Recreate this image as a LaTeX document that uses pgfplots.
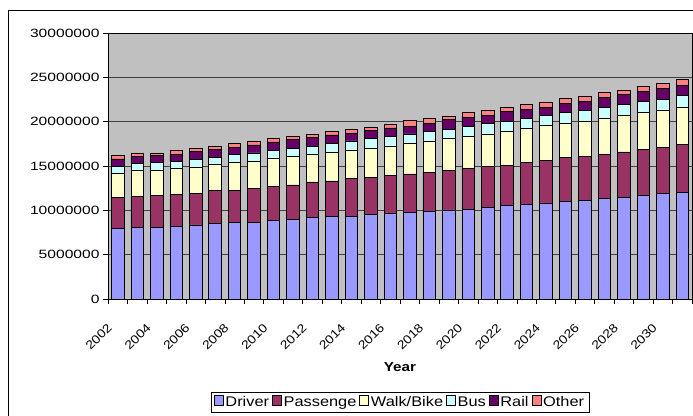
\documentclass[border=0pt]{standalone}
\usepackage{pgfplots}
\pgfplotsset{compat=1.18}
\usepackage{pgfplotstable}
\usepackage{fontspec}
\setmainfont{Liberation Sans}
\newfontfamily\yfont[FakeStretch=1.3]{Liberation Sans}
\newfontfamily\lfont[FakeStretch=1.17]{Liberation Sans}
\definecolor{cDriver}{HTML}{9999FF}
\definecolor{cPass}{HTML}{993366}
\definecolor{cWalk}{HTML}{FFFFCC}
\definecolor{cBus}{HTML}{CCFFFF}
\definecolor{cRail}{HTML}{660066}
\definecolor{cOther}{HTML}{FF8080}
\definecolor{cBack}{HTML}{C0C0C0}
\pgfplotstableread{
x D P W B R O
0 7970000 3460000 2750000 820000 790000 420000
1 8120000 3420000 2930000 790000 830000 380000
2 8080000 3570000 2820000 950000 730000 320000
3 8230000 3580000 2930000 790000 820000 420000
4 8350000 3570000 2970000 860000 860000 340000
5 8490000 3720000 2980000 820000 830000 380000
6 8610000 3680000 3130000 900000 790000 400000
7 8680000 3800000 3080000 910000 900000 450000
8 8870000 3870000 3080000 910000 980000 370000
9 8990000 3870000 3230000 910000 970000 380000
10 9170000 4030000 3150000 900000 940000 380000
11 9280000 4030000 3270000 930000 990000 410000
12 9360000 4210000 3160000 1090000 900000 420000
13 9550000 4130000 3350000 1050000 980000 340000
14 9660000 4320000 3270000 1050000 990000 410000
15 9780000 4320000 3460000 1050000 900000 600000
16 9890000 4430000 3500000 1050000 940000 520000
17 10040000 4470000 3610000 1050000 1050000 340000
18 10150000 4590000 3610000 1160000 980000 520000
19 10300000 4660000 3590000 1260000 920000 570000
20 10560000 4520000 3790000 1170000 1080000 450000
21 10680000 4730000 3840000 1080000 1060000 560000
22 10830000 4810000 3910000 1160000 940000 570000
23 10980000 4960000 3870000 1200000 1060000 520000
24 11130000 4960000 3950000 1240000 1020000 590000
25 11320000 5000000 4010000 1320000 1050000 570000
26 11500000 5080000 4130000 1200000 1130000 530000
27 11650000 5230000 4130000 1290000 1120000 530000
28 11920000 5190000 4170000 1270000 1210000 600000
29 12030000 5370000 4250000 1280000 1170000 680000
}\datatable
\begin{document}
\begin{tikzpicture}
\path[use as bounding box] (-108pt,-116pt) rectangle (585pt,299pt);
\begin{axis}[
  at={(0pt,0pt)}, anchor=south west,
  scale only axis, width=584pt, height=266pt,
  ybar stacked, bar width=12.5pt,
  xmin=-0.5, xmax=29.5, ymin=0, ymax=30000000,
  scaled y ticks=false,
  axis background/.style={fill=cBack},
  ytick={0,5000000,10000000,15000000,20000000,25000000,30000000},
  yticklabels={0,5000000,10000000,15000000,20000000,25000000,30000000},
  ymajorgrids, grid style={black!75, line width=0.6pt},
  xtick={0,2,4,6,8,10,12,14,16,18,20,22,24,26,28},
  xticklabels={2002,2004,2006,2008,2010,2012,2014,2016,2018,2020,2022,2024,2026,2028,2030},
  minor xtick={-0.5,0.5,...,29.5},
  major x tick style={draw=none},
  xtick pos=left, ytick pos=left,
  tick align=outside,
  major tick length=5pt, minor tick length=5pt,
  tick style={black, line width=0.6pt},
  axis line style={black, line width=0.8pt},
  xticklabel style={xshift=-11pt, yshift=-17pt, rotate=45, anchor=north east, inner sep=1pt, font=\lfont\fontsize{12}{12}\selectfont},
  yticklabel style={font=\yfont\fontsize{12}{12}\selectfont},
  xlabel={Year},
  xlabel style={at={(axis description cs:0.5,0)}, anchor=center, yshift=-68pt, font=\lfont\bfseries\fontsize{13}{13}\selectfont},
  legend style={at={(axis description cs:0.5,0)}, anchor=north, yshift=-93pt,
    legend columns=-1, draw=black, line width=0.6pt,
    font=\lfont\fontsize{14}{14}\selectfont,
    /tikz/every even column/.append style={column sep=1pt}},
  legend image code/.code={\draw[#1, draw=black, line width=0.5pt] (0pt,-3pt) rectangle (9pt,7pt);},
  every axis plot/.append style={draw=black, line width=0.7pt},
]
\addplot[fill=cDriver] table[x=x,y=D]{\datatable};
\addplot[fill=cPass] table[x=x,y=P]{\datatable};
\addplot[fill=cWalk] table[x=x,y=W]{\datatable};
\addplot[fill=cBus] table[x=x,y=B]{\datatable};
\addplot[fill=cRail] table[x=x,y=R]{\datatable};
\addplot[fill=cOther] table[x=x,y=O]{\datatable};
\legend{Driver,Passenge,Walk/Bike,Bus,Rail,Other}
\end{axis}
\draw[black, line width=0.8pt] (-100pt,-120pt) -- (-100pt,289pt) -- (590pt,289pt);
\end{tikzpicture}
\end{document}
